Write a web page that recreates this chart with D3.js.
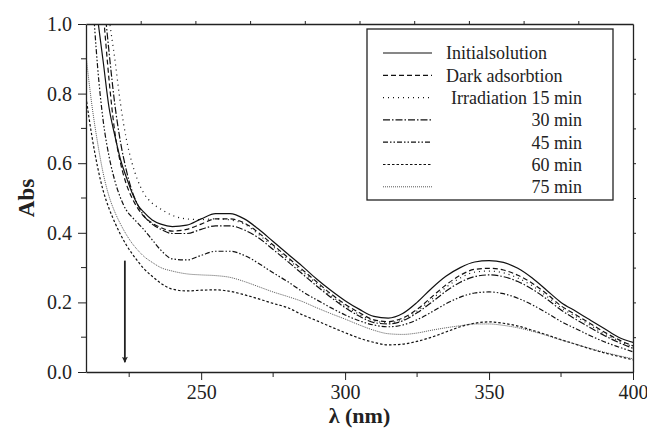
<!DOCTYPE html>
<html>
<head>
<meta charset="utf-8">
<script src="https://cdn.jsdelivr.net/npm/d3@7"></script>
<style>
  body { margin: 0; background: #fff; }
</style>
</head>
<body>
<div id="root"></div>
<script>
const width = 647;
const height = 431;
const margin = { top: 24, right: 14, bottom: 59, left: 86 };
const serif = "Liberation Serif";

// wavelength grid (nm)
const wavelengths = [210, 212, 214, 216, 218, 220, 222, 224, 226, 228, 230, 233, 236, 240, 245, 250, 255, 260, 265, 270, 275, 280, 285, 290, 295, 300, 305, 310, 315, 320, 325, 330, 335, 340, 345, 350, 355, 360, 365, 370, 375, 380, 385, 390, 395, 400];

const initialSolution = [1.38, 1.17, 1.02, 0.89, 0.76, 0.68, 0.61, 0.56, 0.515, 0.48, 0.46, 0.437, 0.425, 0.418, 0.422, 0.44, 0.455, 0.455, 0.44, 0.41, 0.375, 0.34, 0.305, 0.268, 0.235, 0.205, 0.18, 0.16, 0.155, 0.168, 0.2, 0.24, 0.275, 0.3, 0.316, 0.32, 0.315, 0.298, 0.27, 0.235, 0.2, 0.175, 0.15, 0.125, 0.1, 0.085];
const darkAdsorption = [1.7, 1.42, 1.2, 1.03, 0.84, 0.69, 0.6, 0.54, 0.5, 0.47, 0.448, 0.428, 0.415, 0.405, 0.41, 0.425, 0.44, 0.44, 0.428, 0.4, 0.365, 0.33, 0.295, 0.26, 0.225, 0.195, 0.17, 0.15, 0.145, 0.155, 0.18, 0.215, 0.25, 0.278, 0.295, 0.298, 0.293, 0.278, 0.255, 0.225, 0.19, 0.165, 0.14, 0.115, 0.093, 0.075];
const irr15 = [2.0, 1.65, 1.4, 1.18, 1.02, 0.9, 0.77, 0.67, 0.6, 0.55, 0.515, 0.485, 0.468, 0.45, 0.44, 0.438, 0.44, 0.437, 0.425, 0.395, 0.36, 0.325, 0.29, 0.255, 0.22, 0.19, 0.165, 0.147, 0.142, 0.15, 0.175, 0.208, 0.243, 0.27, 0.287, 0.29, 0.285, 0.27, 0.248, 0.218, 0.185, 0.16, 0.135, 0.11, 0.09, 0.072];
const irr30 = [1.8, 1.5, 1.27, 1.09, 0.92, 0.77, 0.66, 0.58, 0.52, 0.48, 0.45, 0.425, 0.41, 0.398, 0.398, 0.41, 0.42, 0.42, 0.408, 0.385, 0.352, 0.318, 0.283, 0.248, 0.215, 0.185, 0.16, 0.142, 0.138, 0.147, 0.17, 0.2, 0.232, 0.258, 0.274, 0.279, 0.274, 0.26, 0.238, 0.21, 0.178, 0.152, 0.128, 0.105, 0.085, 0.068];
const irr45 = [1.45, 1.12, 0.88, 0.72, 0.62, 0.55, 0.5, 0.465, 0.445, 0.428, 0.41, 0.38, 0.35, 0.325, 0.322, 0.335, 0.347, 0.347, 0.335, 0.312, 0.285, 0.26, 0.232, 0.208, 0.185, 0.164, 0.147, 0.135, 0.13, 0.135, 0.15, 0.172, 0.196, 0.215, 0.227, 0.23, 0.225, 0.212, 0.193, 0.17, 0.145, 0.125, 0.105, 0.087, 0.072, 0.058];
const irr60 = [0.79, 0.68, 0.59, 0.52, 0.47, 0.43, 0.395, 0.365, 0.34, 0.318, 0.298, 0.275, 0.255, 0.238, 0.233, 0.235, 0.236, 0.232, 0.222, 0.21, 0.197, 0.185, 0.165, 0.148, 0.13, 0.113, 0.097, 0.085, 0.078, 0.08, 0.088, 0.1, 0.115, 0.13, 0.14, 0.144, 0.14, 0.132, 0.12, 0.107, 0.093, 0.08, 0.067, 0.055, 0.045, 0.035];
const irr75 = [0.91, 0.77, 0.66, 0.57, 0.505, 0.46, 0.425, 0.395, 0.37, 0.35, 0.333, 0.315, 0.3, 0.29, 0.282, 0.279, 0.277, 0.272, 0.26, 0.245, 0.23, 0.217, 0.203, 0.185, 0.168, 0.152, 0.135, 0.12, 0.11, 0.108, 0.112, 0.12, 0.127, 0.133, 0.138, 0.138, 0.134, 0.127, 0.117, 0.105, 0.092, 0.08, 0.068, 0.057, 0.047, 0.038];

const seriesNames = ["Initialsolution", "Dark adsorbtion", "Irradiation 15 min", "30 min", "45 min", "60 min", "75 min"];
const seriesValues = [initialSolution, darkAdsorption, irr15, irr30, irr45, irr60, irr75];
const dashes = ["none", "5,3", "1,4", "7,2,1.5,2", "5,2,1.5,2,1.5,2", "2.5,2", "1,1"];
const strokes = ["#111", "#111", "#111", "#111", "#111", "#111", "#444"];

const xTicks = [250, 300, 350, 400];
const xMinorTicks = [225, 275, 325, 375];
const yTicks = [0.0, 0.2, 0.4, 0.6, 0.8, 1.0];
const yMinorTicks = [0.1, 0.3, 0.5, 0.7, 0.9];

// arrow showing decrease with irradiation time
const arrowX = [223.5];
const arrowY = [0.32, 0.028];

const x = d3.scaleLinear().domain([210, 400]).range([margin.left, width - margin.right]);
const y = d3.scaleLinear().domain([0, 1]).range([height - margin.bottom, margin.top]);

const svg = d3.select("#root").append("svg")
    .attr("width", width)
    .attr("height", height)
    .attr("font-family", serif);

const defs = svg.append("defs");
defs.append("clipPath")
    .attr("id", "plot-clip")
  .append("rect")
    .attr("x", margin.left)
    .attr("y", margin.top)
    .attr("width", width - margin.left - margin.right)
    .attr("height", height - margin.top - margin.bottom);

const line = d3.line()
    .x((d, i) => x(wavelengths[i]))
    .y((d) => y(d))
    .curve(d3.curveMonotoneX);

const curves = svg.append("g").attr("clip-path", "url(#plot-clip)");
seriesValues.forEach((vals, i) => {
    curves.append("path")
        .datum(vals)
        .attr("fill", "none")
        .attr("stroke", strokes[i])
        .attr("stroke-width", i === 6 ? 0.9 : 1.2)
        .attr("stroke-dasharray", dashes[i])
        .attr("d", line);
});

// arrow
defs.append("marker")
    .attr("id", "head")
    .attr("viewBox", "0 0 10 10")
    .attr("refX", 9).attr("refY", 5)
    .attr("markerWidth", 10).attr("markerHeight", 6)
    .attr("markerUnits", "userSpaceOnUse")
    .attr("orient", "auto")
  .append("path")
    .attr("d", "M0,0 L10,5 L0,10 L2,5 Z")
    .attr("fill", "#222");

svg.append("line")
    .attr("x1", x(arrowX[0])).attr("x2", x(arrowX[0]))
    .attr("y1", y(arrowY[0])).attr("y2", y(arrowY[1]))
    .attr("stroke", "#222")
    .attr("stroke-width", 1.8)
    .attr("marker-end", "url(#head)");

// axes
const bottom = svg.append("g")
    .attr("transform", `translate(0,${height - margin.bottom})`)
    .call(d3.axisBottom(x).tickValues(xTicks).tickSize(8).tickSizeOuter(0).tickFormat(d3.format("d")));
bottom.append("g").selectAll("line").data(xMinorTicks).enter().append("line")
    .attr("x1", x).attr("x2", x).attr("y1", 0).attr("y2", 5).attr("stroke", "#222");

const left = svg.append("g")
    .attr("transform", `translate(${margin.left},0)`)
    .call(d3.axisLeft(y).tickValues(yTicks).tickSize(8).tickSizeOuter(0).tickFormat(d3.format(".1f")));
left.append("g").selectAll("line").data(yMinorTicks).enter().append("line")
    .attr("y1", y).attr("y2", y).attr("x1", 0).attr("x2", -5).attr("stroke", "#222");

const topTicks = d3.range(1, 10).map(k => 210 + k * 19);
svg.append("g")
    .attr("transform", `translate(0,${margin.top})`)
    .call(d3.axisTop(x).tickValues(topTicks).tickSize(3).tickSizeOuter(0).tickFormat(""));
svg.append("g")
    .attr("transform", `translate(${width - margin.right},0)`)
    .call(d3.axisRight(y).tickValues(d3.range(1, 10).map(k => k / 10)).tickSize(3).tickSizeOuter(0).tickFormat(""));

// d3 axes set font-family="sans-serif" on their groups; override it
svg.selectAll("g").attr("font-family", serif);
svg.selectAll(".domain").attr("stroke", "#222").attr("stroke-width", 1.3);
svg.selectAll(".tick line").attr("stroke", "#222");
svg.selectAll(".tick text")
    .attr("font-family", serif)
    .attr("font-size", 20)
    .attr("fill", "#222");
bottom.selectAll(".tick text").attr("y", 27).attr("dy", "0");
left.selectAll(".tick text").attr("x", -14);

svg.append("text")
    .attr("transform", `translate(26,${(margin.top + height - margin.bottom) / 2}) rotate(-90)`)
    .attr("text-anchor", "middle")
    .attr("dy", "0.35em")
    .attr("font-family", serif)
    .attr("font-size", 23)
    .attr("font-weight", "bold")
    .attr("fill", "#222")
    .text("Abs");

svg.append("text")
    .attr("x", (margin.left + width - margin.right) / 2)
    .attr("y", 423)
    .attr("text-anchor", "middle")
    .attr("font-family", serif)
    .attr("font-size", 22)
    .attr("font-weight", "bold")
    .attr("fill", "#222")
    .text("λ (nm)");

// legend
const legend = svg.append("g");
legend.append("rect")
    .attr("x", 367).attr("y", 29)
    .attr("width", 246).attr("height", 171)
    .attr("fill", "#fff")
    .attr("stroke", "#222")
    .attr("stroke-width", 1.3);

seriesNames.forEach((name, i) => {
    const yy = 53 + i * 22.3;
    legend.append("line")
        .attr("x1", 383).attr("x2", 432)
        .attr("y1", yy).attr("y2", yy)
        .attr("stroke", strokes[i])
        .attr("stroke-width", i === 6 ? 0.9 : 1.2)
        .attr("stroke-dasharray", dashes[i]);
    legend.append("text")
        .attr("x", i < 2 ? 446 : 582)
        .attr("y", yy)
        .attr("dy", "0.35em")
        .attr("text-anchor", i < 2 ? "start" : "end")
        .attr("font-family", serif)
        .attr("font-size", 18)
        .attr("fill", "#222")
        .text(name);
});
</script>
</body>
</html>
